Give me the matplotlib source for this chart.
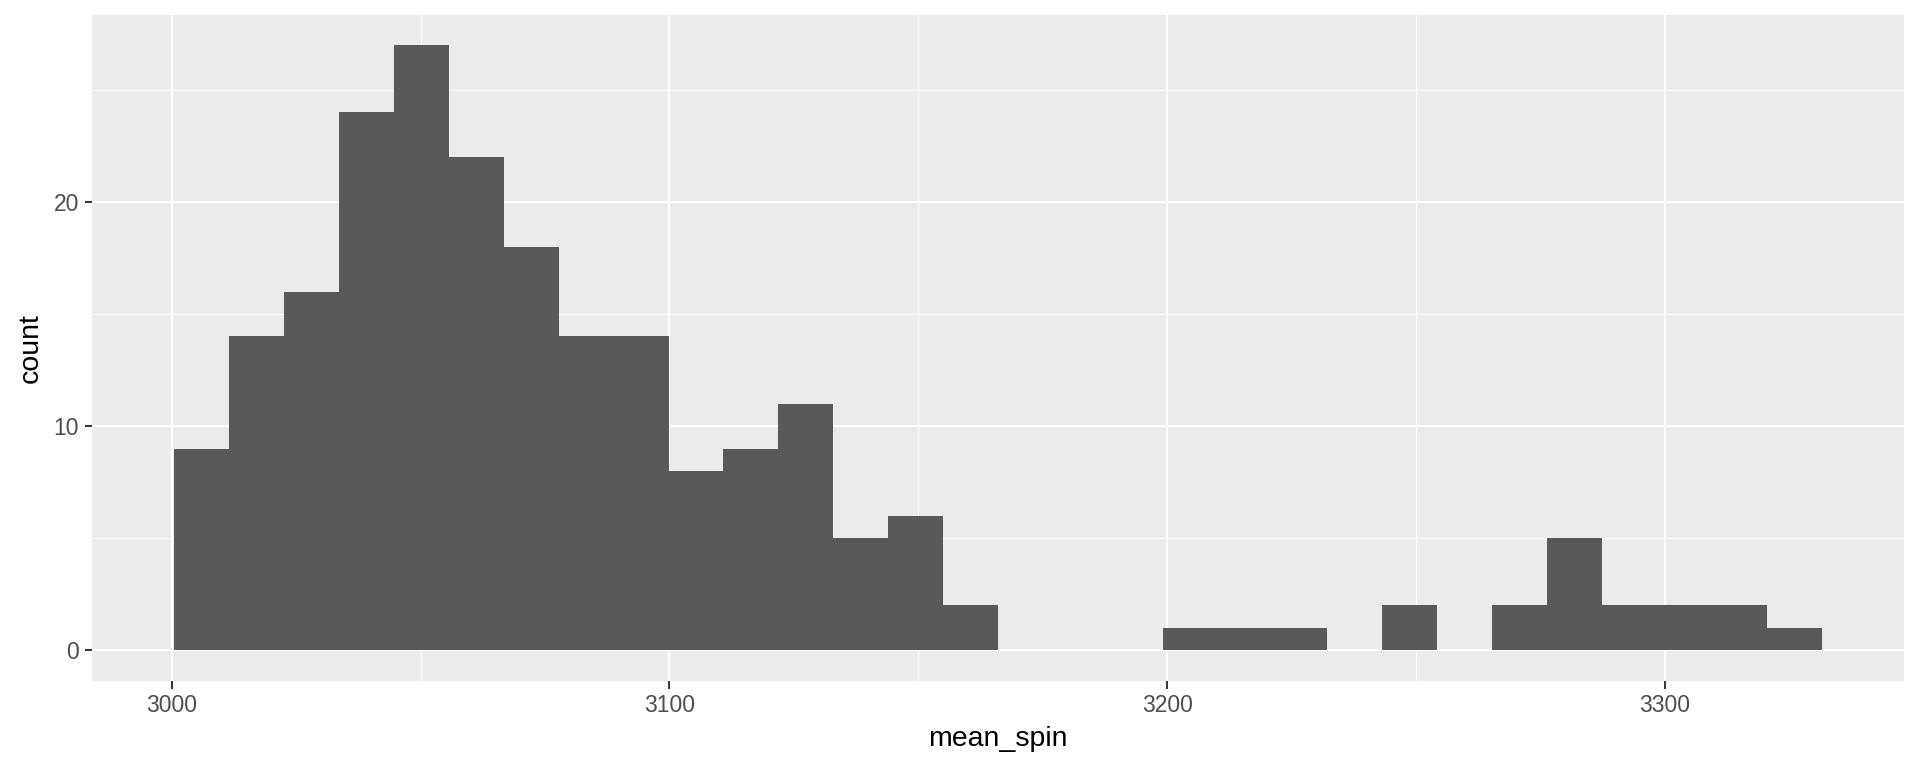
import matplotlib
matplotlib.use("Agg")
import matplotlib.pyplot as plt
import numpy as np

# histogram of mean_spin, 30 bins (ggplot style)
bin_start = 3000.5
bin_width = 11.035
counts = [9, 14, 16, 24, 27, 22, 18, 14, 14, 8,
          9, 11, 5, 6, 2, 0, 0, 0, 1, 1,
          1, 0, 2, 0, 2, 5, 2, 2, 2, 1]
x_ticks = [3000, 3100, 3200, 3300]
y_ticks = [0, 10, 20]

plt.rcParams['font.family'] = ['Liberation Sans', 'DejaVu Sans']

edges = bin_start + bin_width * np.arange(len(counts) + 1)

fig = plt.figure(figsize=(19.2, 7.68), dpi=100)
ax = fig.add_axes([0.0479, 0.1138, 0.9438, 0.8671])
ax.set_facecolor("#EBEBEB")

ax.bar(edges[:-1], counts, width=bin_width, align="edge", color="#595959",
       linewidth=0, zorder=3)

# limits with ggplot's 5% expansion
xr = edges[-1] - edges[0]
ax.set_xlim(edges[0] - 0.05 * xr, edges[-1] + 0.05 * xr)
ax.set_ylim(-0.05 * max(counts), max(counts) * 1.05)

ax.set_xticks(x_ticks)
ax.set_yticks(y_ticks)
ax.set_xticks([3050, 3150, 3250], minor=True)
ax.set_yticks([5, 15, 25], minor=True)
ax.grid(which="major", color="white", linewidth=1.5, zorder=0)
ax.grid(which="minor", color="white", linewidth=0.75, zorder=0)
ax.set_axisbelow(True)

for s in ax.spines.values():
    s.set_visible(False)
ax.tick_params(which="major", length=5.4, width=1.4, color="#333333",
               labelsize=16.5, labelcolor="#4D4D4D", pad=4)
ax.tick_params(which="minor", length=0)

ax.set_xlabel("mean_spin", fontsize=20.5, color="black", labelpad=7)
ax.set_ylabel("count", fontsize=20.5, color="black", labelpad=7)

fig.savefig("out.png", dpi=100, facecolor="white")
